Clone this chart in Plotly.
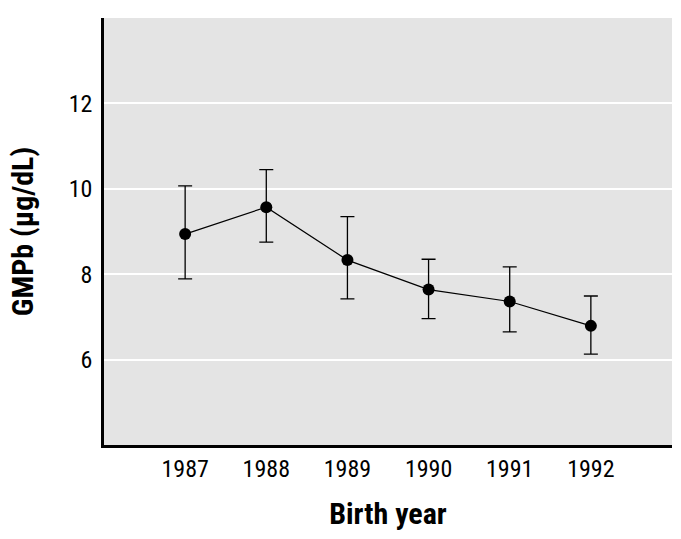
import plotly.graph_objects as go

years = [1987, 1988, 1989, 1990, 1991, 1992]
gmpb = [8.94, 9.57, 8.33, 7.64, 7.36, 6.79]
upper = [10.07, 10.45, 9.35, 8.35, 8.17, 7.49]
lower = [7.89, 8.75, 7.42, 6.96, 6.65, 6.13]

err_plus = [u - m for u, m in zip(upper, gmpb)]
err_minus = [m - l for m, l in zip(gmpb, lower)]

FONT = "Liberation Sans Narrow, Roboto Condensed, DejaVu Sans Condensed, Arial Narrow, sans-serif"

fig = go.Figure()
fig.add_trace(go.Scatter(
    x=years, y=gmpb, mode="lines+markers",
    line=dict(color="black", width=1.2),
    marker=dict(color="black", size=12),
    error_y=dict(type="data", symmetric=False, array=err_plus, arrayminus=err_minus,
                 color="black", thickness=1.3, width=7),
    showlegend=False,
))

fig.update_layout(
    width=681, height=539,
    margin=dict(l=104, r=9, t=18, b=94),
    paper_bgcolor="white",
    plot_bgcolor="#e4e4e4",
    font=dict(family=FONT, color="black", size=24),
)
fig.update_xaxes(
    range=[1986, 1993], tickvals=years, ticktext=[str(y) for y in years],
    showgrid=False, zeroline=False, automargin=False,
    showline=True, linecolor="black", linewidth=2.5,
    ticks="", ticklabelstandoff=0,
    title=dict(text="<b>Birth year</b>", font=dict(size=30, family=FONT), standoff=22),
)
fig.update_yaxes(
    range=[4, 14], tickvals=[6, 8, 10, 12],
    showgrid=True, gridcolor="white", gridwidth=1.5, zeroline=False, automargin=False,
    showline=True, linecolor="black", linewidth=2.5,
    ticks="", ticklabelstandoff=4,
    title=dict(text="<b>GMPb (μg/dL)</b>", font=dict(size=30, family=FONT), standoff=27),
)

fig.write_html("out.html", config={"displayModeBar": False},
               post_script="document.body.style.margin='0';")
